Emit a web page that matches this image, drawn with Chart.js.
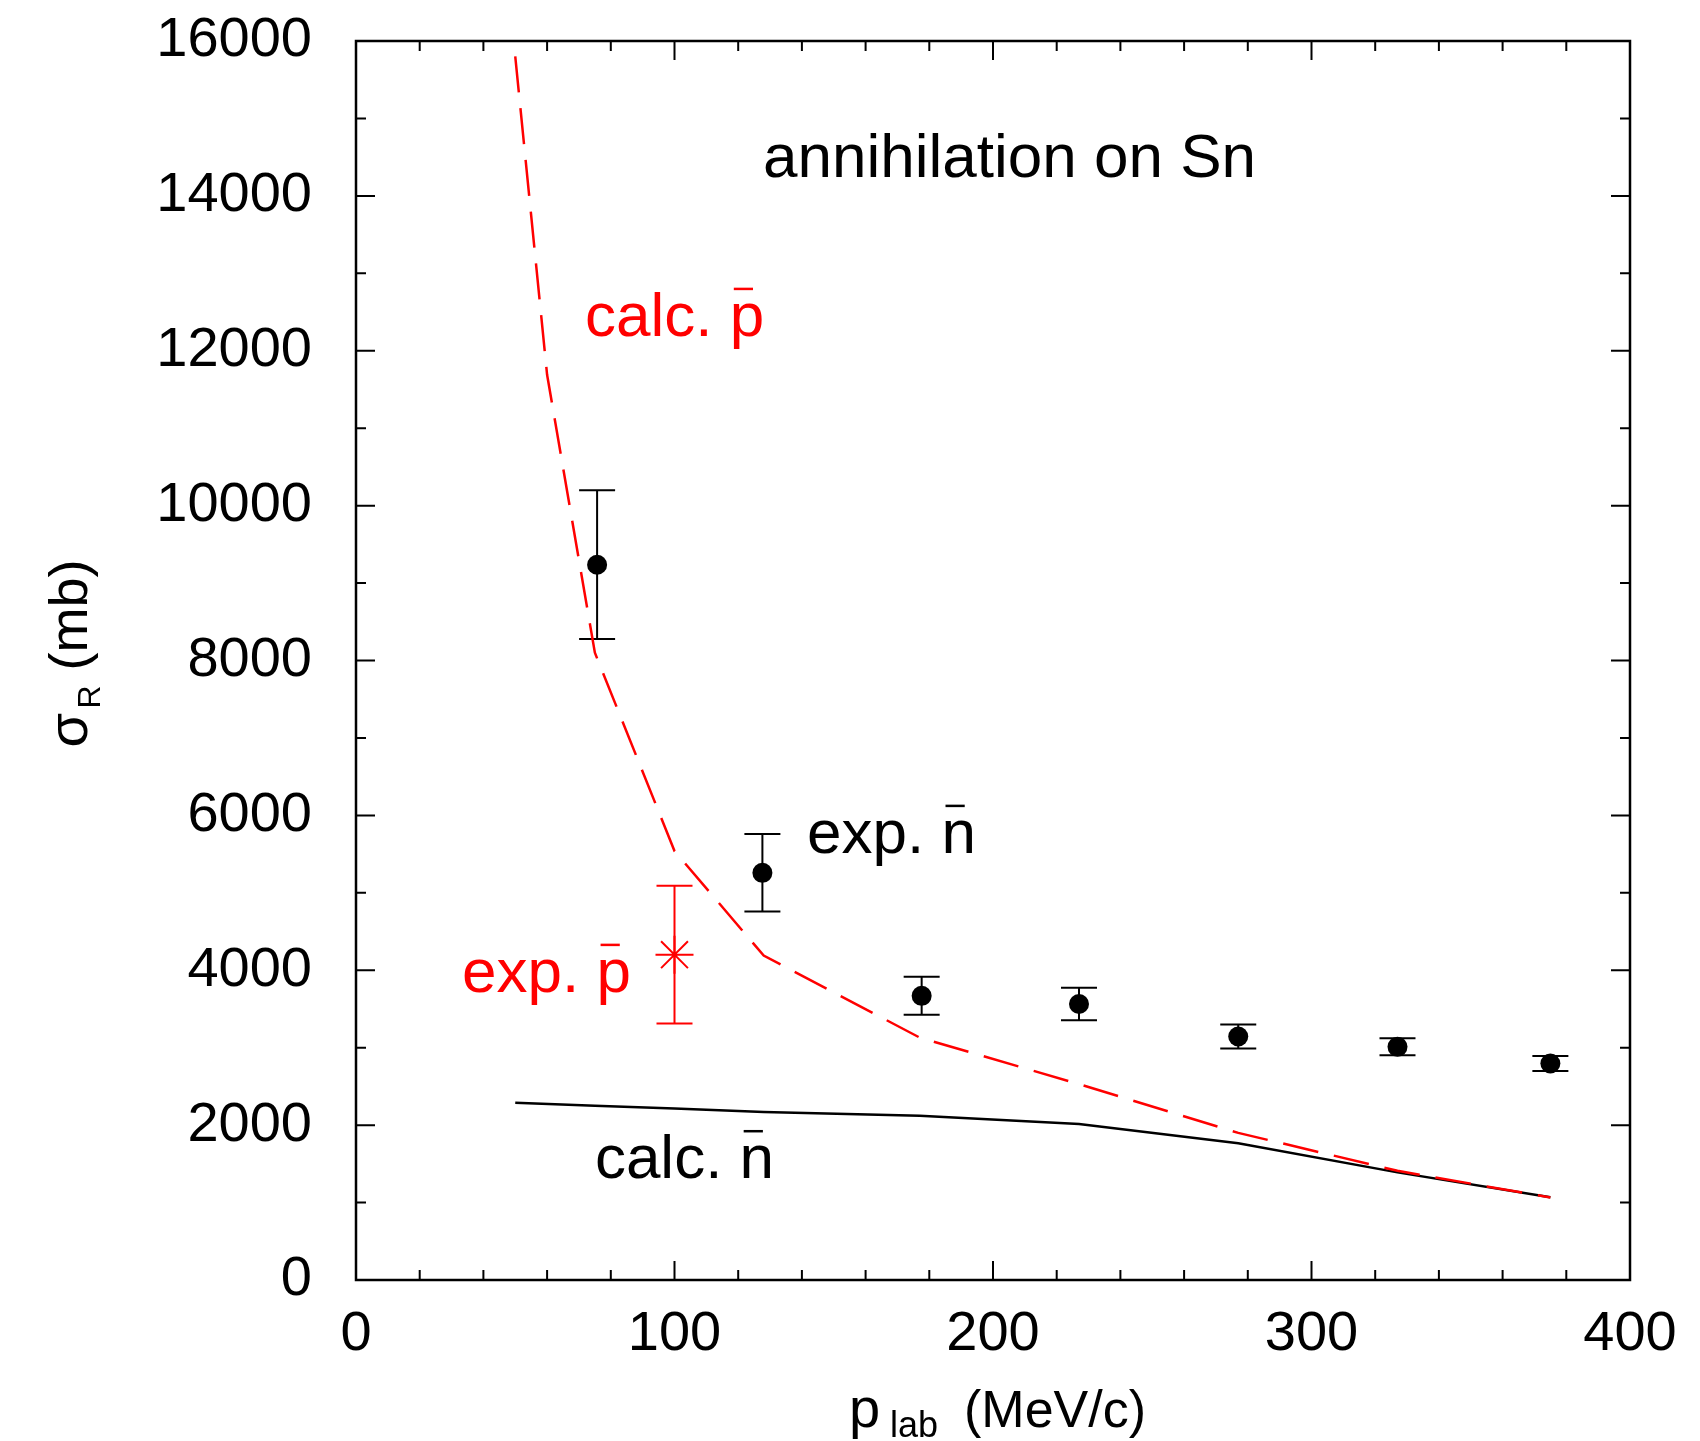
<!DOCTYPE html>
<html>
<head>
<meta charset="utf-8">
<script src="https://cdn.jsdelivr.net/npm/chart.js@4.4.0/dist/chart.umd.min.js"></script>
<style>
html, body { margin: 0; padding: 0; background: #fff; }
canvas { display: block; }
</style>
</head>
<body>
<canvas id="chart" width="1700" height="1441"></canvas>
<script>
// calculated curves
const calcPbarX = [50, 60, 75, 100, 128, 177, 227, 277, 327, 375];
const calcPbarY = [15800, 11690, 8100, 5540, 4190, 3130, 2530, 1900, 1410, 1065];
const calcNbarX = [50, 75, 100, 128, 177, 227, 277, 327, 375];
const calcNbarY = [2290, 2250, 2215, 2170, 2120, 2014, 1765, 1390, 1068];

// measured points (value, symmetric error)
const expNbarX = [75.7, 127.6, 177.6, 227, 277, 327, 375];
const expNbarY = [9237, 5258, 3670, 3564, 3144, 3011, 2796];
const expNbarErr = [960, 500, 245, 210, 155, 110, 97];
const expPbarX = [100];
const expPbarY = [4201];
const expPbarErr = [889];

// axis ticks
const xTicks = [0, 100, 200, 300, 400];
const yTicks = [0, 2000, 4000, 6000, 8000, 10000, 12000, 14000, 16000];
const xMinorStep = 20;
const yMinorStep = 1000;

const RED = '#ff0000';
const FONT = '"Liberation Sans", Arial, Helvetica, sans-serif';

// text placed in data units: text, barred letter, x, y (baseline), colour
const notes = [
    {pre: 'annihilation on Sn', bar: '', x: 127.8, y: 14240, color: '#000'},
    {pre: 'calc. ', bar: 'p', x: 71.9, y: 12190, color: RED},
    {pre: 'exp. ', bar: 'n', x: 141.6, y: 5514, color: '#000'},
    {pre: 'exp. ', bar: 'p', x: 33.3, y: 3719, color: RED},
    {pre: 'calc. ', bar: 'n', x: 75, y: 1313, color: '#000'}
];

function pts(xs, ys) {
    return xs.map((x, i) => ({x: x, y: ys[i]}));
}

const decor = {
    id: 'decor',
    beforeDatasetsDraw(chart) {
        const ctx = chart.ctx, xs = chart.scales.x, ys = chart.scales.y;
        const bars = [
            {x: expNbarX, y: expNbarY, e: expNbarErr, color: '#000'},
            {x: expPbarX, y: expPbarY, e: expPbarErr, color: RED}
        ];
        ctx.save();
        ctx.lineWidth = 2;
        bars.forEach(b => {
            ctx.strokeStyle = b.color;
            b.x.forEach((v, i) => {
                const px = xs.getPixelForValue(v);
                const top = ys.getPixelForValue(b.y[i] + b.e[i]);
                const bot = ys.getPixelForValue(b.y[i] - b.e[i]);
                ctx.beginPath();
                ctx.moveTo(px, top); ctx.lineTo(px, bot);
                ctx.moveTo(px - 18, top); ctx.lineTo(px + 18, top);
                ctx.moveTo(px - 18, bot); ctx.lineTo(px + 18, bot);
                ctx.stroke();
            });
        });
        ctx.restore();
    },
    afterDraw(chart) {
        const ctx = chart.ctx, a = chart.chartArea;
        const xs = chart.scales.x, ys = chart.scales.y;
        ctx.save();
        ctx.strokeStyle = '#000';
        ctx.lineWidth = 2.5;
        ctx.strokeRect(a.left, a.top, a.right - a.left, a.bottom - a.top);

        // inward ticks on all four sides
        ctx.lineWidth = 2;
        ctx.beginPath();
        for (let v = xs.min; v <= xs.max; v += xMinorStep) {
            const px = xs.getPixelForValue(v);
            const len = xTicks.includes(v) ? 19 : 10;
            ctx.moveTo(px, a.bottom); ctx.lineTo(px, a.bottom - len);
            ctx.moveTo(px, a.top); ctx.lineTo(px, a.top + len);
        }
        for (let v = ys.min; v <= ys.max; v += yMinorStep) {
            const py = ys.getPixelForValue(v);
            const len = yTicks.includes(v) ? 19 : 10;
            ctx.moveTo(a.left, py); ctx.lineTo(a.left + len, py);
            ctx.moveTo(a.right, py); ctx.lineTo(a.right - len, py);
        }
        ctx.stroke();

        // annotations
        const fs = 62;
        ctx.font = fs + 'px ' + FONT;
        ctx.textBaseline = 'alphabetic';
        ctx.textAlign = 'left';
        notes.forEach(n => {
            const px = xs.getPixelForValue(n.x);
            const py = ys.getPixelForValue(n.y);
            ctx.fillStyle = n.color;
            ctx.fillText(n.pre + n.bar, px, py);
            if (n.bar) {
                const bx = px + ctx.measureText(n.pre).width + 0.066 * fs;
                ctx.strokeStyle = n.color;
                ctx.lineWidth = 2.5;
                ctx.beginPath();
                ctx.moveTo(bx, py - 0.76 * fs);
                ctx.lineTo(bx + 0.31 * fs, py - 0.76 * fs);
                ctx.stroke();
            }
        });

        // x axis title: p_lab (MeV/c)
        ctx.fillStyle = '#000';
        const cx = (a.left + a.right) / 2;
        const xb = a.bottom + 147;
        ctx.font = '56px ' + FONT;
        ctx.fillText('p', cx - 144, xb);
        ctx.font = '36px ' + FONT;
        ctx.fillText('lab', cx - 103, xb + 10);
        ctx.font = '52px ' + FONT;
        ctx.fillText('(MeV/c)', cx - 29, xb);

        // y axis title: sigma_R (mb)
        const cy = (a.top + a.bottom) / 2;
        ctx.translate(87, cy + 87);
        ctx.rotate(-Math.PI / 2);
        ctx.font = '56px ' + FONT;
        ctx.fillText('\u03c3', 0, 0);
        ctx.font = '32px ' + FONT;
        ctx.fillText('R', 39, 13);
        ctx.font = '54px ' + FONT;
        ctx.fillText('(mb)', 77, 0);
        ctx.restore();
    }
};

new Chart(document.getElementById('chart'), {
    type: 'scatter',
    data: {
        datasets: [
            {
                type: 'line',
                data: pts(calcPbarX, calcPbarY),
                borderColor: RED,
                borderWidth: 2.5,
                borderDash: [36, 16],
                pointRadius: 0,
                tension: 0,
                fill: false
            },
            {
                type: 'line',
                data: pts(calcNbarX, calcNbarY),
                borderColor: '#000',
                borderWidth: 2.5,
                pointRadius: 0,
                tension: 0,
                fill: false
            },
            {
                data: pts(expNbarX, expNbarY),
                pointRadius: 10,
                backgroundColor: '#000',
                borderWidth: 0
            },
            {
                data: pts(expPbarX, expPbarY),
                pointStyle: 'star',
                pointRadius: 19,
                borderColor: RED,
                borderWidth: 2
            }
        ]
    },
    options: {
        responsive: false,
        animation: false,
        events: [],
        layout: { padding: { left: 0, right: 70, top: 41, bottom: 0 } },
        plugins: { legend: { display: false }, tooltip: { enabled: false } },
        scales: {
            x: {
                type: 'linear',
                min: 0,
                max: 400,
                afterBuildTicks: s => { s.ticks = xTicks.map(v => ({value: v})); },
                afterFit: s => { s.height = 161; s.paddingLeft = 0; s.paddingRight = 0; },
                grid: { display: false, drawTicks: false },
                border: { display: false },
                ticks: { color: '#000', padding: 21, font: { family: FONT, size: 56 },
                         callback: v => String(v) }
            },
            y: {
                type: 'linear',
                min: 0,
                max: 16000,
                afterBuildTicks: s => { s.ticks = yTicks.map(v => ({value: v})); },
                afterFit: s => { s.width = 356; s.paddingTop = 0; s.paddingBottom = 0; },
                grid: { display: false, drawTicks: false },
                border: { display: false },
                ticks: { color: '#000', padding: 44, font: { family: FONT, size: 56 },
                         callback: v => String(v) }
            }
        }
    },
    plugins: [decor]
});
</script>
</body>
</html>
